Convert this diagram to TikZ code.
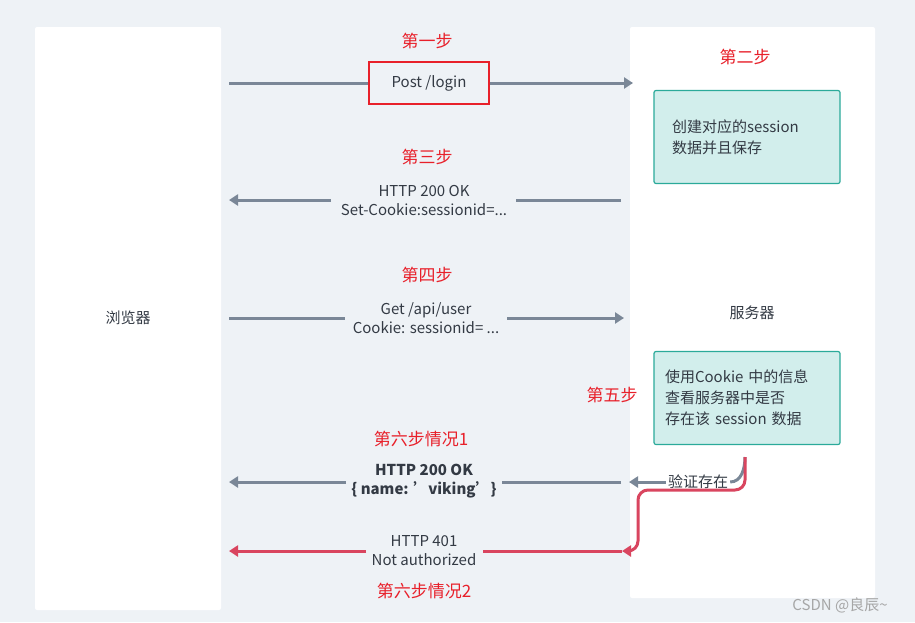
\documentclass[tikz,border=0pt]{standalone}
\usepackage{fontspec}
\setmainfont{Noto Sans CJK SC}
\usetikzlibrary{arrows.meta,positioning}
\definecolor{bgc}{HTML}{EEF2F6}
\definecolor{linec}{HTML}{7A8797}
\definecolor{redc}{HTML}{D9455F}
\definecolor{stepc}{HTML}{E8202A}
\definecolor{boxf}{HTML}{D2EEEC}
\definecolor{boxd}{HTML}{2BAA9A}
\definecolor{txtc}{HTML}{333A44}
\tikzset{
  panel/.style={fill=white, draw=none, rounded corners=2pt},
  msg/.style={font=\fontsize{15}{19}\selectfont, text=txtc, align=center, inner sep=2pt},
  steplbl/.style={font=\fontsize{17}{20}\selectfont, text=stepc},
  store/.style={draw=boxd, fill=boxf, rounded corners=2pt, line width=1.2pt, font=\fontsize{15}{21}\selectfont, text=txtc, align=left, minimum width=186pt},
  msgarrow/.style={draw=linec, line width=3pt, -{Triangle[length=9pt,width=11pt]}},
  msgline/.style={draw=linec, line width=3pt},
  failarrow/.style={draw=redc, line width=3pt, rounded corners=10pt, -{Triangle[length=9pt,width=11pt]}}
}
\begin{document}
\begin{tikzpicture}[x=1pt,y=-1pt]
    \useasboundingbox (0,0) rectangle (915,622);
    \fill[bgc] (0,0) rectangle (915,622);
    % panels
    \draw[panel] (35,27) rectangle (221,610);
    \draw[panel] (630,27) rectangle (875,598);
    \node[msg] (browser) at (128,318) {浏览器};
    \node[msg] (server) at (752,313) {服务器};

    % step 1
    \node[steplbl] (s1) at (427,41) {第一步};
    \node[msg, draw=stepc, line width=1.2pt, minimum width=120pt, minimum height=42pt] (login) at (429,83) {Post /login};
    \coordinate (a1) at (229,83);
    \coordinate (b1) at (633,83);
    \draw[msgline] (a1) -- (login);
    \draw[msgarrow] (login) -- (b1);

    % step 2
    \node[steplbl] (s2) at (745,57) {第二步};
    \node[store, minimum height=93pt, text width=150pt] (create) at (747,137) {创建对应的session\\数据并且保存};

    % step 3
    \node[steplbl] (s3) at (427,157) {第三步};
    \node[msg] (ok) at (424,200) {HTTP 200 OK\\Set-Cookie:sessionid=...};
    \coordinate (a3) at (621,200);
    \coordinate (b3) at (229,200);
    \draw[msgline] (a3) -- (516,200);
    \draw[msgarrow] (331,200) -- (b3);

    % step 4
    \node[steplbl] (s4) at (427,275) {第四步};
    \node[msg] (get) at (426,318) {Get /api/user\\Cookie: sessionid= ...};
    \coordinate (a4) at (229,318);
    \coordinate (b4) at (624,318);
    \draw[msgline] (a4) -- (345,318);
    \draw[msgarrow] (507,318) -- (b4);

    % step 5
    \node[steplbl] (s5) at (612,395) {第五步};
    \node[store, minimum height=93pt, text width=164pt] (check) at (747,398) {使用Cookie 中的信息\\查看服务器中是否\\存在该 session 数据};

    % step 6 case 1
    \node[steplbl] (s61) at (421,439) {第六步情况1};
    \node[msg, font=\fontsize{15}{19}\selectfont\bfseries] (ok2) at (424,481) {HTTP 200 OK\\\{ name: \symbol{39}viking\symbol{39}\}};
    \node[msg, fill=white] (exist) at (698,482) {验证存在};
    \coordinate (c1) at (745,457);
    \coordinate (e1) at (629,482);
    \coordinate (b6) at (229,482);
    \draw[msgline] (c1) to[out=-90,in=0] (exist.east);
    \draw[msgarrow] (exist.west) -- (e1);
    \draw[msgline] (621,482) -- (502,482);
    \draw[msgarrow] (346,482) -- (b6);

    % step 6 case 2
    \node[msg] (no) at (424,551) {HTTP 401\\Not authorized};
    \node[steplbl] (s62) at (424,591) {第六步情况2};
    \coordinate (e2) at (622,551);
    \coordinate (b7) at (229,551);
    \draw[failarrow] (c1) -- (745,490) -- (638,490) -- (638,551) -- (e2);
    \draw[draw=redc, line width=3pt] (e2) -- (483,551);
    \draw[failarrow] (366,551) -- (b7);

    \node[font=\fontsize{15}{18}\selectfont, text=gray!70] (mark) at (840,605) {CSDN @良辰\textasciitilde};
\end{tikzpicture}
\end{document}
